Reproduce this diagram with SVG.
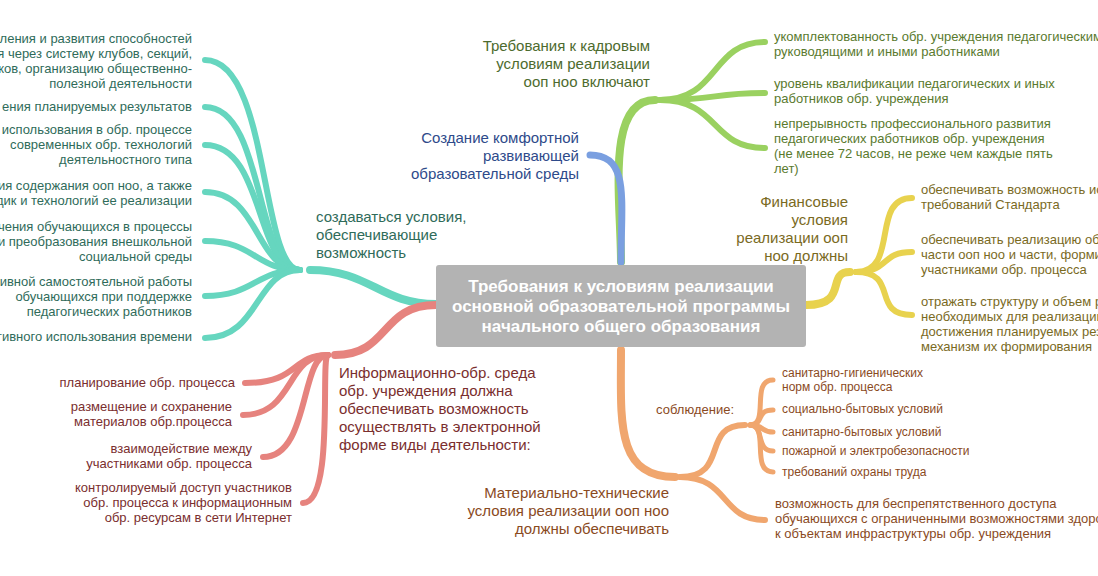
<svg xmlns="http://www.w3.org/2000/svg" width="1098" height="576" viewBox="0 0 1098 576">
<style>
text{font-family:"Liberation Sans",Arial,sans-serif}
.b{fill:none;stroke-linecap:round}
.t{stroke:#66d6bf}.r{stroke:#e6837e}.g{stroke:#9ad160}.bl{stroke:#7a9fe0}.y{stroke:#e8d24e}.o{stroke:#f0a66e}
.lt{fill:#2f6b5a;font-size:13px;text-anchor:end}
.lr{fill:#7a2e2e;font-size:13px;text-anchor:end}
.lg{fill:#5a7a2e;font-size:13px}
.ly{fill:#7a6a1e;font-size:13px}
.lo{fill:#8a4a1e;font-size:13px}
.so{fill:#8a4a1e;font-size:12px}
</style>
<rect width="1098" height="576" fill="#fff"/>
<g id="connectors">
<path class="b t" stroke-width="8" d="M436,304 C380,304 370,270 310,270"/>
<g class="b t" stroke-width="6">
<path d="M300,270 C260,270 270,60 205,60"/>
<path d="M300,270 C255,270 265,107 205,107"/>
<path d="M300,270 C255,270 265,145 205,145"/>
<path d="M300,270 C255,270 260,192 205,192"/>
<path d="M300,270 C255,270 255,241 205,241"/>
<path d="M300,270 C255,270 255,296 205,296"/>
<path d="M300,270 C255,270 260,338 205,338"/>
</g>
<path class="b r" stroke-width="8" d="M436,305 C380,305 390,355 335,355"/>
<g class="b r" stroke-width="6">
<path d="M328,355 C290,355 300,383 245,383"/>
<path d="M328,355 C285,355 295,415 243,415"/>
<path d="M328,355 C300,355 310,457 263,457"/>
<path d="M328,355 C320,355 335,503 303,503"/>
</g>
<path class="b g" stroke-width="8" d="M621,262 C621,200 605,100 655,100"/>
<g class="b g" stroke-width="6">
<path d="M660,100 C720,100 710,42 765,42"/>
<path d="M660,100 C720,100 710,93 765,93"/>
<path d="M660,100 C720,100 710,148 765,148"/>
</g>
<path class="b bl" stroke-width="7" d="M621,262 C621,200 630,155 590,155"/>
<path class="b y" stroke-width="8" d="M806,305 C850,305 825,272 850,272"/>
<g class="b y" stroke-width="6">
<path d="M856,272 C900,272 870,198 912,198"/>
<path d="M856,272 C890,272 880,252 912,252"/>
<path d="M856,272 C900,272 870,315 912,315"/>
</g>
<path class="b o" stroke-width="8" d="M621,350 C621,420 615,477 675,477"/>
<g class="b o" stroke-width="6">
<path d="M680,477 C730,477 700,425 745,425"/>
<path d="M680,477 C730,477 720,520 765,520"/>
</g>
<g class="b o" stroke-width="5">
<path d="M750,425 C770,425 750,380 773,380"/>
<path d="M750,425 C765,425 755,410 773,410"/>
<path d="M750,425 C765,425 760,432 773,432"/>
<path d="M750,425 C765,425 755,451 773,451"/>
<path d="M750,425 C770,425 750,472 773,472"/>
</g>
</g>
<g id="center">
<rect x="436" y="265" width="370" height="82" rx="3" fill="#b3b3b3"/>
<text x="621" y="292" fill="#fff" font-size="17" font-weight="bold" text-anchor="middle">Требования к условиям реализации</text>
<text x="621" y="312" fill="#fff" font-size="17" font-weight="bold" text-anchor="middle">основной образовательной программы</text>
<text x="621" y="332" fill="#fff" font-size="17" font-weight="bold" text-anchor="middle">начального общего образования</text>
</g>
<g id="teal">
<text x="316" y="222" fill="#2f6b5a" font-size="15">создаваться условия,</text>
<text x="316" y="240" fill="#2f6b5a" font-size="15">обеспечивающие</text>
<text x="316" y="258" fill="#2f6b5a" font-size="15">возможность</text>
<text class="lt" x="192" y="43">ления и развития способностей</text>
<text class="lt" x="192" y="58">я через систему клубов, секций,</text>
<text class="lt" x="192" y="73">ков, организацию общественно-</text>
<text class="lt" x="192" y="88">полезной деятельности</text>
<text class="lt" x="192" y="111">ения планируемых результатов</text>
<text class="lt" x="192" y="134">использования в обр. процессе</text>
<text class="lt" x="192" y="149">современных обр. технологий</text>
<text class="lt" x="192" y="164">деятельностного типа</text>
<text class="lt" x="192" y="190">ия содержания ооп ноо, а также</text>
<text class="lt" x="192" y="205">дик и технологий ее реализации</text>
<text class="lt" x="192" y="231">чения обучающихся в процессы</text>
<text class="lt" x="192" y="246">и преобразования внешкольной</text>
<text class="lt" x="192" y="261">социальной среды</text>
<text class="lt" x="192" y="286">ивной самостоятельной работы</text>
<text class="lt" x="192" y="301">обучающихся при поддержке</text>
<text class="lt" x="192" y="316">педагогических работников</text>
<text class="lt" x="192" y="341">гивного использования времени</text>
</g>
<g id="red">
<text x="339" y="378" fill="#7a2e2e" font-size="15">Информационно-обр. среда</text>
<text x="339" y="396" fill="#7a2e2e" font-size="15">обр. учреждения должна</text>
<text x="339" y="414" fill="#7a2e2e" font-size="15">обеспечивать возможность</text>
<text x="339" y="432" fill="#7a2e2e" font-size="15">осуществлять в электронной</text>
<text x="339" y="450" fill="#7a2e2e" font-size="15">форме виды деятельности:</text>
<text class="lr" x="235" y="387">планирование обр. процесса</text>
<text class="lr" x="232" y="411">размещение и сохранение</text>
<text class="lr" x="232" y="426">материалов обр.процесса</text>
<text class="lr" x="252" y="453">взаимодействие между</text>
<text class="lr" x="252" y="468">участниками обр. процесса</text>
<text class="lr" x="292" y="492">контролируемый доступ участников</text>
<text class="lr" x="292" y="507">обр. процесса к информационным</text>
<text class="lr" x="292" y="522">обр. ресурсам в сети Интернет</text>
</g>
<g id="green">
<text x="650" y="51" fill="#4d6b2e" font-size="15" text-anchor="end">Требования к кадровым</text>
<text x="650" y="69" fill="#4d6b2e" font-size="15" text-anchor="end">условиям реализации</text>
<text x="650" y="87" fill="#4d6b2e" font-size="15" text-anchor="end">ооп ноо включают</text>
<text class="lg" x="774" y="41">укомплектованность обр. учреждения педагогическими,</text>
<text class="lg" x="774" y="56">руководящими и иными работниками</text>
<text class="lg" x="774" y="88">уровень квалификации педагогических и иных</text>
<text class="lg" x="774" y="103">работников обр. учреждения</text>
<text class="lg" x="774" y="128">непрерывность профессионального развития</text>
<text class="lg" x="774" y="143">педагогических работников обр. учреждения</text>
<text class="lg" x="774" y="158">(не менее 72 часов, не реже чем каждые пять</text>
<text class="lg" x="774" y="173">лет)</text>
</g>
<g id="blue">
<text x="579" y="143" fill="#2e4a8a" font-size="15" text-anchor="end">Создание комфортной</text>
<text x="579" y="161" fill="#2e4a8a" font-size="15" text-anchor="end">развивающей</text>
<text x="579" y="179" fill="#2e4a8a" font-size="15" text-anchor="end">образовательной среды</text>
</g>
<g id="yellow">
<text x="848" y="207" fill="#7a6a1e" font-size="15" text-anchor="end">Финансовые</text>
<text x="848" y="225" fill="#7a6a1e" font-size="15" text-anchor="end">условия</text>
<text x="848" y="243" fill="#7a6a1e" font-size="15" text-anchor="end">реализации ооп</text>
<text x="848" y="261" fill="#7a6a1e" font-size="15" text-anchor="end">ноо должны</text>
<text class="ly" x="921" y="194">обеспечивать возможность исполнения</text>
<text class="ly" x="921" y="209">требований Стандарта</text>
<text class="ly" x="921" y="244">обеспечивать реализацию обязательной</text>
<text class="ly" x="921" y="259">части ооп ноо и части, формируемой</text>
<text class="ly" x="921" y="274">участниками обр. процесса</text>
<text class="ly" x="921" y="306">отражать структуру и объем расходов,</text>
<text class="ly" x="921" y="321">необходимых для реализации ооп ноо и</text>
<text class="ly" x="921" y="336">достижения планируемых результатов, а также</text>
<text class="ly" x="921" y="351">механизм их формирования</text>
</g>
<g id="orange">
<text x="669" y="498" fill="#8a4a1e" font-size="15" text-anchor="end">Материально-технические</text>
<text x="669" y="516" fill="#8a4a1e" font-size="15" text-anchor="end">условия реализации ооп ноо</text>
<text x="669" y="534" fill="#8a4a1e" font-size="15" text-anchor="end">должны обеспечивать</text>
<text x="734" y="414" fill="#8a4a1e" font-size="13" text-anchor="end">соблюдение:</text>
<text class="so" x="782" y="377">санитарно-гигиенических</text>
<text class="so" x="782" y="391">норм обр. процесса</text>
<text class="so" x="782" y="413">социально-бытовых условий</text>
<text class="so" x="782" y="436">санитарно-бытовых условий</text>
<text class="so" x="782" y="455">пожарной и электробезопасности</text>
<text class="so" x="782" y="476">требований охраны труда</text>
<text class="lo" x="775" y="508">возможность для беспрепятственного доступа</text>
<text class="lo" x="775" y="523">обучающихся с ограниченными возможностями здоровья</text>
<text class="lo" x="775" y="538">к объектам инфраструктуры обр. учреждения</text>
</g>
</svg>
